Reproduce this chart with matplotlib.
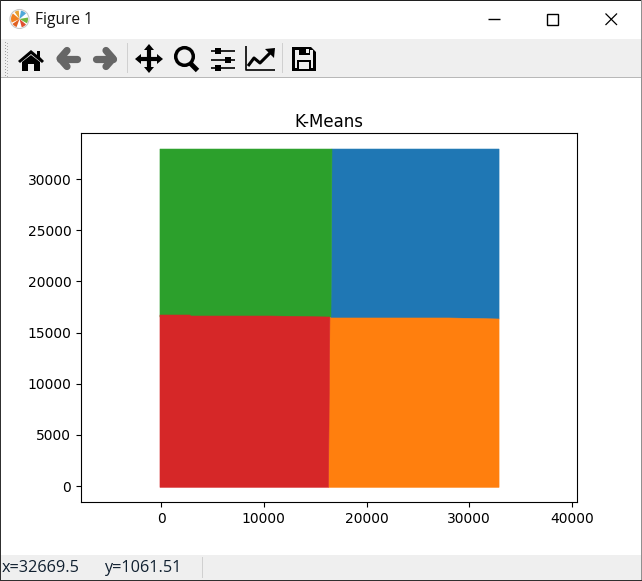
import matplotlib
matplotlib.use("Agg")
import matplotlib.pyplot as plt
from matplotlib.patches import Circle, Polygon, Rectangle, Wedge

# Cluster outlines (data units)
green_x = [-100, 16640, 16540, -100]
green_y = [32930, 32930, 16515, 16515]
blue_x = [16640, 32900, 32900, 16540]
blue_y = [32930, 32930, 16320, 16420]
red_x = [-100, 2800, 2900, 10600, 16440, 16300, -100]
red_y = [16710, 16710, 16610, 16610, 16515, -130, -130]
orange_x = [16440, 16540, 28000, 32900, 32900, 16300]
orange_y = [16515, 16420, 16420, 16320, -130, -130]

clusters = [
    (blue_x, blue_y, "tab:blue"),
    (orange_x, orange_y, "tab:orange"),
    (green_x, green_y, "tab:green"),
    (red_x, red_y, "tab:red"),
]

x_ticks = [0, 10000, 20000, 30000, 40000]
y_ticks = [0, 5000, 10000, 15000, 20000, 25000, 30000]

W, H = 642, 581
fig = plt.figure(figsize=(W / 100, H / 100), dpi=100)

# Window chrome, drawn in pixel coordinates under the plot
chrome = fig.add_axes([0, 0, 1, 1], zorder=0)
chrome.set_xlim(0, W)
chrome.set_ylim(H, 0)
chrome.axis("off")


def rect(x, y, w, h, color):
    chrome.add_patch(Rectangle((x, y), w, h, fc=color, ec="none"))


def poly(points, color):
    chrome.add_patch(Polygon(points, closed=True, fc=color, ec="none"))


def line(xs, ys, color="black", lw=1.5, cap="butt"):
    chrome.plot(xs, ys, color=color, lw=lw, solid_capstyle=cap, solid_joinstyle="round")


rect(0, 39, W, 37.5, "#efefef")
rect(0, 76.5, W, 1.2, "#b8b8b8")
rect(0, 555, W, 24.5, "#efefef")
rect(0, 0, W, 1, "#202020")
rect(0, 0, 1, H, "#303030")
rect(641, 0, 1, H, "#909090")
rect(0, 579.5, W, 1.5, "#303030")

# title bar
chrome.add_patch(Circle((19.5, 19), 9.5, fc="white", ec="#c8c8c8", lw=0.8))
for start, end, c in [(95, 125, "#e8a030"), (140, 205, "#f08020"), (215, 250, "#e06020"),
                      (285, 320, "#e05030"), (330, 10, "#70b840"), (40, 80, "#50a8d8")]:
    chrome.add_patch(Wedge((19.5, 19), 8.5, -end, -start, fc=c, ec="none"))
chrome.text(35, 19.5, "Figure 1", fontsize=11.2, family="Open Sans", va="center", color="#101010")
line([488, 500], [18.5, 18.5], lw=1)
chrome.add_patch(Rectangle((546.5, 13.5), 11, 11, fc="none", ec="black", lw=1))
line([605.5, 617], [13.5, 25], lw=0.9)
line([605.5, 617], [25, 13.5], lw=0.9)

# toolbar grip and separators
for gy in range(42, 76, 3):
    rect(5, gy, 1, 1, "#a0a0a0")
    rect(7, gy + 1, 1, 1, "#b0b0b0")
rect(127, 43, 1, 30, "#d0d0d0")
rect(282, 43, 1, 30, "#d0d0d0")
rect(202, 557, 1, 21, "#d0d0d0")

# home
poly([(18, 61), (31, 50), (37, 55), (37, 51), (40, 51), (40, 57), (44, 61), (42, 63),
      (31, 54), (20, 63)], "black")
poly([(22, 62), (31, 55), (40, 62), (40, 71), (34, 71), (34, 64), (28, 64), (28, 71), (22, 71)], "black")
# back / forward
line([60, 77], [58.5, 58.5], color="#666666", lw=5.2, cap="round")
line([67, 60, 67], [50.5, 58.5, 66.5], color="#666666", lw=5.2, cap="round")
line([96, 113], [58.5, 58.5], color="#666666", lw=5.2, cap="round")
line([106, 113, 106], [50.5, 58.5, 66.5], color="#666666", lw=5.2, cap="round")
# move
line([149, 149], [48, 70], lw=3)
line([138, 160], [59, 59], lw=3)
poly([(149, 44), (154, 50), (144, 50)], "black")
poly([(149, 73), (154, 67), (144, 67)], "black")
poly([(135, 59), (141, 54), (141, 64)], "black")
poly([(163, 59), (157, 54), (157, 64)], "black")
# zoom
chrome.add_patch(Circle((184.5, 56.5), 8.8, fc="none", ec="black", lw=2.5))
line([190, 197.5], [63, 70.5], lw=3.5)
# configure
for ly, kx in [(51, 218), (59.5, 228), (68, 218)]:
    line([211, 235], [ly, ly], lw=1.2)
    rect(kx - 3, ly - 3, 6, 6, "black")
# subplots / edit curves
line([246, 246, 275], [46, 70, 70], lw=1.2)
line([248, 254, 260, 272], [66, 58, 63, 51], lw=2.2)
poly([(265, 49), (275, 48), (274, 58)], "black")
# save
poly([(292, 47), (311, 47), (316, 52), (316, 71), (292, 71)], "black")
rect(295, 50, 18, 18, "#efefef")
rect(299, 47.5, 11, 7.5, "black")
rect(306, 49, 2.5, 4, "#efefef")
rect(297, 60, 14, 11, "black")
rect(299, 62, 10, 7, "#efefef")

# status bar
chrome.text(2, 568, "x=32669.5", fontsize=11.7, family="Open Sans", va="center", color="#102030")
chrome.text(104, 568, "y=1061.51", fontsize=11.7, family="Open Sans", va="center", color="#102030")

# The plot
ax = fig.add_axes([81 / W, (H - 502) / H, 496 / W, 369 / H], zorder=1)
for xs, ys, color in clusters:
    ax.fill(xs, ys, fc=color, ec=color, lw=0.4)
ax.set_xlim(-7786, 40486)
ax.set_ylim(-1563, 34496)
ax.set_xticks(x_ticks)
ax.set_yticks(y_ticks)
ax.set_title("K-Means", pad=4)

plt.savefig("out.png", dpi=100)
